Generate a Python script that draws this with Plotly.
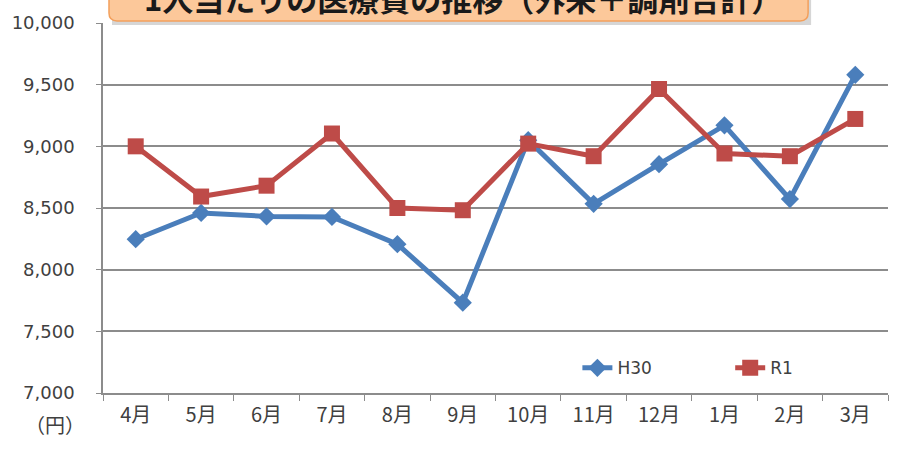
import plotly.graph_objects as go

# 月別 1人当たりの医療費（円）
months = ["4月", "5月", "6月", "7月", "8月", "9月", "10月", "11月", "12月", "1月", "2月", "3月"]
h30 = [8247, 8460, 8432, 8428, 8207, 7732, 9050, 8534, 8855, 9170, 8572, 9580]
r1 = [9000, 8593, 8681, 9104, 8500, 8482, 9022, 8920, 9465, 8942, 8920, 9222]
y_ticks = [7000, 7500, 8000, 8500, 9000, 9500, 10000]
title_text = "1人当たりの医療費の推移（外来＋調剤合計）"

W, H = 906, 451
L, R, T, B = 102, 18, 19, 58
pw, ph = W - L - R, H - T - B


def px_x(x):
    return (x - L) / pw


def px_y(y):
    return (H - B - y) / ph


BLUE = "#4A7EBB"
RED = "#BE4B48"
GRID = "#8C8C8C"
TXT = "#404040"
CJK = "Noto Sans CJK JP"
LATIN = "DejaVu Sans"

fig = go.Figure()
fig.add_trace(go.Scatter(
    x=months, y=h30, name="H30", mode="lines+markers",
    line=dict(color=BLUE, width=5),
    marker=dict(symbol="diamond", size=14, color=BLUE),
    legend="legend", showlegend=True,
))
fig.add_trace(go.Scatter(
    x=months, y=r1, name="R1", mode="lines+markers",
    line=dict(color=RED, width=5),
    marker=dict(symbol="square", size=16, color=RED),
    legend="legend2", showlegend=True,
))

# title banner (only its lower part sits inside the page)
fig.add_shape(type="rect", xref="paper", yref="paper",
              x0=px_x(111), x1=px_x(811), y0=px_y(21), y1=px_y(-40),
              fillcolor="rgba(0,0,0,0.16)", line=dict(width=0), layer="below")
fig.add_shape(type="path", xref="paper", yref="paper",
              path=(f"M {px_x(108)},{px_y(-40)} L {px_x(108)},{px_y(9)} "
                    f"Q {px_x(108)},{px_y(17)} {px_x(116)},{px_y(17)} "
                    f"L {px_x(800)},{px_y(17)} "
                    f"Q {px_x(808)},{px_y(17)} {px_x(808)},{px_y(9)} "
                    f"L {px_x(808)},{px_y(-40)} Z"),
              fillcolor="#FCC89A", line=dict(color="#F3A05C", width=1.5))
fig.add_annotation(text=f"<b>{title_text}</b>", xref="paper", yref="paper",
                   x=px_x(462), y=px_y(-7), xanchor="center", yanchor="middle",
                   showarrow=False, font=dict(family=CJK, size=31, color="#1A1A1A"))

# unit label under the y axis
fig.add_annotation(text="（円）", xref="paper", yref="paper",
                   x=px_x(86), y=px_y(425), xanchor="right", yanchor="middle",
                   showarrow=False, font=dict(family=CJK, size=20, color=TXT))

fig.update_layout(
    width=W, height=H,
    margin=dict(l=L, r=R, t=T, b=B),
    paper_bgcolor="white", plot_bgcolor="white",
    showlegend=True,
    font=dict(family=LATIN, color=TXT),
    legend=dict(orientation="h", x=px_x(577), y=px_y(368), xanchor="left", yanchor="middle",
                bgcolor="rgba(0,0,0,0)", font=dict(family=LATIN, size=17, color=TXT)),
    legend2=dict(orientation="h", x=px_x(730), y=px_y(368), xanchor="left", yanchor="middle",
                 bgcolor="rgba(0,0,0,0)", font=dict(family=LATIN, size=17, color=TXT)),
)
fig.update_xaxes(
    type="category", tickson="boundaries", ticks="outside", ticklen=6, tickcolor=GRID,
    showline=True, linecolor=GRID, linewidth=1.5, showgrid=False,
    tickfont=dict(family=CJK, size=20, color=TXT), range=[-0.5, 11.5],
    ticklabelstandoff=3,
)
fig.update_yaxes(
    range=[7000, 10000], tickvals=y_ticks, tickformat=",", ticks="outside", ticklen=5,
    tickcolor=GRID, showline=True, linecolor=GRID, linewidth=1.5,
    showgrid=True, gridcolor=GRID, gridwidth=1.5, zeroline=False,
    tickfont=dict(family=LATIN, size=18, color=TXT), ticklabelstandoff=18,
)

fig.write_html("out.html")
